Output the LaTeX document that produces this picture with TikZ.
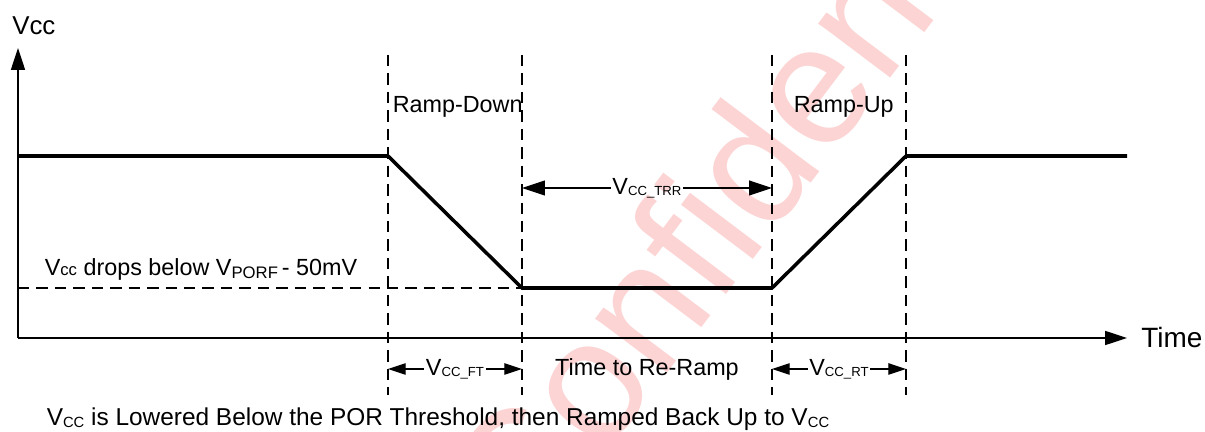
\documentclass[tikz,border=0pt]{standalone}
\usepackage{fontspec}
\setmainfont{Liberation Sans}
\usetikzlibrary{arrows.meta,calc,positioning}

\definecolor{wmred}{RGB}{252,212,212}
\newcommand{\subsz}{\fontsize{7.5}{8}\selectfont}
\newcommand{\Vsub}[1]{V\raisebox{-0.6pt}{\subsz #1}}

\tikzset{
  axisline/.style={line width=0.8pt,-{Triangle[length=12.5pt,width=8pt]}},
  signal/.style={line width=2pt},
  guide/.style={line width=0.6pt,dash pattern=on 6.5pt off 4pt},
  dimarrow/.style={line width=0.6pt,-{Triangle[length=13pt,width=8.5pt]}},
  dimsmall/.style={line width=0.6pt,-{Triangle[length=10pt,width=6.5pt]}},
  lbl/.style={font=\fontsize{13.3}{15}\selectfont,inner sep=0.8pt},
}

\begin{document}
\begin{tikzpicture}[x=0.02cm,y=-0.02cm]
  \useasboundingbox (0,0) rectangle (1205,432);
  % watermark
  \node[wmred,rotate=53,font=\fontsize{97}{100}\selectfont] (wm) at (752,160) {Confidential};

  % axes
  \coordinate (O) at (18,338);
  \coordinate (ytop) at (18,48);
  \coordinate (xend) at (1127,338);
  \draw[axisline] (O) -- (ytop);
  \draw[axisline] (O) -- (xend);
  \node[font=\fontsize{14.7}{16}\selectfont,anchor=base west,inner sep=0pt] (vcc) at (12,35) {Vcc};
  \node[font=\fontsize{15.9}{17}\selectfont,right=8pt of xend,inner sep=0pt] (time) {Time};

  % timing marks
  \foreach \n/\x in {a/388,b/522,c/772,d/906}{
    \coordinate (top\n) at (\x,55);
    \coordinate (bot\n) at (\x,395);
    \draw[guide] (top\n) -- (bot\n);
  }

  % supply waveform
  \coordinate (s0) at (18,156);
  \coordinate (s1) at (388,156);
  \coordinate (s2) at (522,288);
  \coordinate (s3) at (772,288);
  \coordinate (s4) at (906,156);
  \coordinate (s5) at (1127,156);
  \draw[guide] (O |- s2) -- (s2);
  \draw[signal] (s0) -- (s1) -- (s2) -- (s3) -- (s4) -- (s5);

  \node[lbl,anchor=base west] (rdown) at (391,113) {Ramp-Down};
  \node[lbl,anchor=base west] (rup) at (792,113) {Ramp-Up};
  \node[lbl,anchor=base west] (drop) at (43,276) {V{\fontsize{9.5}{10}\selectfont cc} drops below V\raisebox{-1.2pt}{\fontsize{9.5}{10}\selectfont PORF}\,- 50mV};

  % intervals
  \node[lbl] (trr) at (647,188) {\Vsub{CC\_TRR}};
  \draw[dimarrow] (trr.west) -- (topb |- trr.west);
  \draw[dimarrow] (trr.east) -- (topc |- trr.east);

  \node[lbl] (ft) at (455,369) {\Vsub{CC\_FT}};
  \draw[dimsmall] (ft.west) -- (bota |- ft.west);
  \draw[dimsmall] (ft.east) -- (botb |- ft.east);
  \node[lbl,anchor=base] (rr) at (647,376) {Time to Re-Ramp};
  \node[lbl] (rt) at (839,369) {\Vsub{CC\_RT}};
  \draw[dimsmall] (rt.west) -- (botc |- rt.west);
  \draw[dimsmall] (rt.east) -- (botd |- rt.east);

  \node[lbl,anchor=base west,font=\fontsize{13.9}{15}\selectfont] (caption) at (45,426) {V\raisebox{-1pt}{\fontsize{8.4}{9}\selectfont CC} is Lowered Below the POR Threshold, then Ramped Back Up to V\raisebox{-1pt}{\fontsize{8.4}{9}\selectfont CC}};
\end{tikzpicture}
\end{document}
